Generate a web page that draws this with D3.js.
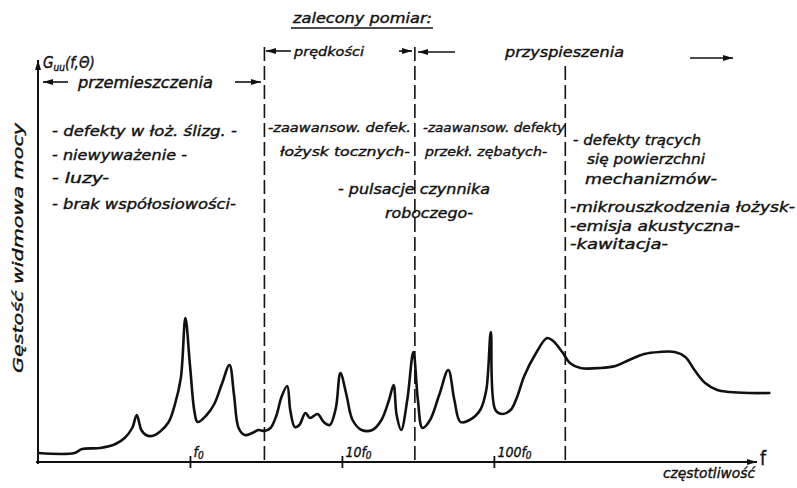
<!DOCTYPE html>
<html><head><meta charset="utf-8">
<script src="https://cdn.jsdelivr.net/npm/d3@7"></script>
<style>
body{margin:0;background:#fff}
svg{display:block}
text{font-family:"DejaVu Sans Condensed","DejaVu Sans",sans-serif;font-style:oblique;fill:#111;stroke:#111;stroke-width:0.35}
</style>
</head><body><svg id="c" width="797" height="488"></svg>
<script>
// ---- data (frequency in decades relative to f0, spectral density level) ----
const freqDecades = [-1.00,-0.76,-0.71,-0.59,-0.49,-0.43,-0.38,-0.35,-0.32,-0.29,-0.25,-0.20,-0.14,-0.10,-0.06,-0.03,0.00,0.03,0.05,0.11,0.16,0.21,0.26,0.29,0.32,0.36,0.41,0.45,0.49,0.53,0.57,0.60,0.64,0.66,0.69,0.72,0.76,0.79,0.84,0.88,0.92,0.96,0.99,1.03,1.07,1.13,1.20,1.26,1.31,1.34,1.36,1.39,1.43,1.47,1.50,1.53,1.58,1.64,1.70,1.74,1.78,1.84,1.91,1.95,1.98,2.01,2.06,2.11,2.15,2.20,2.27,2.35,2.39,2.45,2.50,2.57,2.70,2.80,2.89,2.99,3.09,3.19,3.26,3.32,3.39,3.47,3.55,3.68,3.82];
const density = [9,9,13,14,18,24,34,47,32,27,26,30,40,57,84,144,97,50,40,47,58,78,97,67,34,27,29,32,31,34,47,64,76,52,35,37,49,44,48,40,37,54,89,67,42,32,32,42,62,77,47,32,62,110,62,34,42,67,92,62,40,42,52,72,130,52,48,52,64,86,107,124,121,110,99,94,94,96,102,108,110,110,105,92,79,72,70,69,69];
const tickValues = [0, 1, 2];
const tickLabels = [["f","0"],["10f","0"],["100f","0"]];
const bandBounds = [0.49, 1.48, 2.47];
const titleText = "zalecony pomiar:";
const yTitle = "Gęstość widmowa mocy";
const xTitle = "częstotliwość";
const bandNames = ["przemieszczenia", "prędkości", "przyspieszenia"];
const notesDisp = ["- defekty w łoż. ślizg. -", "- niewyważenie -", "- luzy-", "- brak współosiowości-"];
const notesVel1 = ["-zaawansow. defek.", "łożysk tocznych-"];
const notesVel2 = ["-zaawansow. defekty", "przekł. zębatych-"];
const notesPuls = ["- pulsacje czynnika", "roboczego-"];
const notesAcc = ["- defekty trących", "się powierzchni", "mechanizmów-", "-mikrouszkodzenia łożysk-", "-emisja akustyczna-", "-kawitacja-"];

// ---- scales ----
const svg = d3.select("#c");
const x = d3.scaleLinear().domain([-1, 3.85]).range([38, 775]);
const y = d3.scaleLinear().domain([0, 400]).range([462, 62]);
const ink = "#111";

const defs = svg.append("defs");
defs.append("marker").attr("id","ah").attr("viewBox","0 0 10 6").attr("refX",10).attr("refY",3)
  .attr("markerWidth",10).attr("markerHeight",6).attr("markerUnits","userSpaceOnUse").attr("orient","auto")
  .append("path").attr("d","M0,0L10,3L0,6z").attr("fill",ink);

function label(str, px, py, w, size) {
  const t = svg.append("text").attr("x", px).attr("y", py).attr("font-size", size || 14).text(str);
  if (w) t.attr("textLength", w).attr("lengthAdjust", "spacingAndGlyphs");
  return t;
}
function arrow(x1, yy, x2) {
  svg.append("line").attr("x1",x1).attr("y1",yy).attr("x2",x2).attr("y2",yy)
    .attr("stroke",ink).attr("stroke-width",1.6).attr("marker-end","url(#ah)");
}

// ---- dashed band boundaries ----
const dashTop = [47, 47, 66];
svg.selectAll(".band").data(bandBounds).join("line")
  .attr("x1", d => x(d)).attr("x2", d => x(d))
  .attr("y1", (d,i) => dashTop[i]).attr("y2", y(0) + 2)
  .attr("stroke", ink).attr("stroke-width", 1.6).attr("stroke-dasharray", "14,5");

// ---- axes ----
const xAxis = d3.axisBottom(x).tickValues(tickValues).tickSize(6).tickFormat("");
const gx = svg.append("g").attr("transform", `translate(0,${y(0)})`).call(xAxis);
gx.select(".domain").remove();
gx.selectAll(".tick line").attr("y1", -6).attr("y2", 6).attr("stroke", ink).attr("stroke-width", 1.8);
gx.selectAll(".tick").each(function(d, i) {
  const t = d3.select(this).append("text").attr("x", 3).attr("y", -5)
    .attr("font-size", 14).attr("fill", ink).attr("text-anchor", "start");
  t.append("tspan").text(tickLabels[i][0]);
  t.append("tspan").attr("font-size", 10).attr("dy", 2).text(tickLabels[i][1]);
});
svg.append("line").attr("x1", 36).attr("y1", y(0)).attr("x2", 757).attr("y2", y(0))
  .attr("stroke", ink).attr("stroke-width", 2).attr("marker-end", "url(#ah)");
svg.append("line").attr("x1", x(-1)).attr("y1", y(0) + 2).attr("x2", x(-1)).attr("y2", 60)
  .attr("stroke", ink).attr("stroke-width", 2).attr("marker-end", "url(#ah)");

// ---- curve ----
const pts = freqDecades.map((f, i) => [f, density[i]]);
svg.append("path").datum(pts)
  .attr("d", d3.line().x(d => x(d[0])).y(d => y(d[1])).curve(d3.curveCatmullRom.alpha(0.5)))
  .attr("fill", "none").attr("stroke", ink).attr("stroke-width", 2.6).attr("stroke-linejoin", "round");

// ---- titles ----
label(titleText, 293, 23, 139, 14);
svg.append("line").attr("x1", 291).attr("x2", 433).attr("y1", 28).attr("y2", 28).attr("stroke", ink).attr("stroke-width", 1.4);

const g = svg.append("text").attr("x", 43).attr("y", 68).attr("font-size", 15);
g.append("tspan").text("G");
g.append("tspan").attr("font-size", 10).attr("dy", 3).text("uu");
g.append("tspan").attr("dy", -3).text("(f,Θ)");

svg.append("text").attr("transform", "translate(23,248) rotate(-90)").attr("text-anchor", "middle")
  .attr("font-size", 14).attr("textLength", 250).attr("lengthAdjust", "spacingAndGlyphs").text(yTitle);
label(xTitle, 663, 478, 92, 14);
svg.append("text").attr("x", 760).attr("y", 465).attr("font-size", 19).style("font-style", "normal").text("f");

// ---- band headings with arrows ----
arrow(68, 82, 43); label(bandNames[0], 78, 88, 135, 15); arrow(235, 82, 261);
arrow(291, 51, 266); label(bandNames[1], 294, 56, 70, 13); arrow(399, 51, 412);
arrow(455, 52, 418); label(bandNames[2], 505, 57, 119, 14); arrow(690, 58, 733);

// ---- annotations ----
const dispW = [185, 135, 57, 184];
const dispY = [136, 160, 183, 209];
notesDisp.forEach((s, i) => label(s, 52, dispY[i], dispW[i], 14));
label(notesVel1[0], 268, 132, 143, 13); label(notesVel1[1], 280, 156, 130, 13);
label(notesVel2[0], 423, 132, 142, 13); label(notesVel2[1], 425, 156, 122, 13);
label(notesPuls[0], 338, 194, 152, 14); label(notesPuls[1], 385, 218, 88, 14);
const accX = [573, 587, 585, 570, 570, 570];
const accW = [128, 118, 132, 225, 170, 98];
const accY = [145, 164, 184, 212, 231, 249];
notesAcc.forEach((s, i) => label(s, accX[i], accY[i], accW[i], 14));
</script>
</body></html>
